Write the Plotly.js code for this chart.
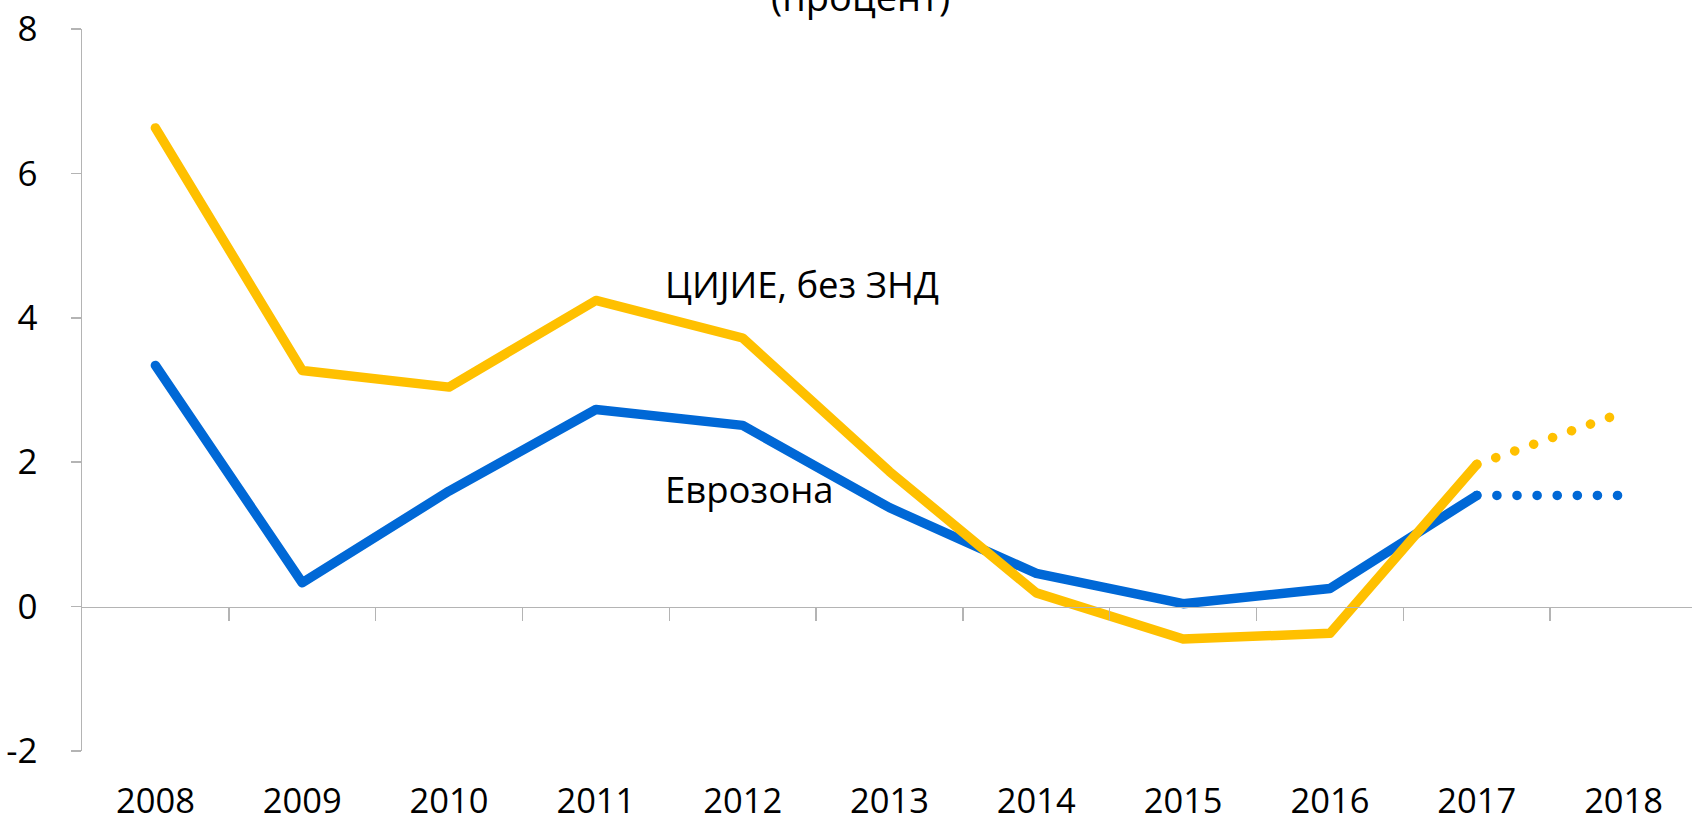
<!DOCTYPE html>
<html>
<head>
<meta charset="utf-8">
<script src="https://cdn.plot.ly/plotly-3.0.1.min.js"></script>
<style>
html,body{margin:0;padding:0;overflow:hidden;background:#fff;}
#chart{width:1697px;height:823px;}
path.js-line{stroke-linecap:round !important;stroke-linejoin:round !important;}
</style>
</head>
<body>
<div id="chart"></div>
<script>
const years = ['2008','2009','2010','2011','2012','2013','2014','2015','2016','2017','2018'];
const euroArea = [3.34, 0.33, 1.60, 2.73, 2.51, 1.37, 0.46, 0.04, 0.25, 1.54, 1.54];
const ceeArea  = [6.63, 3.27, 3.04, 4.24, 3.72, 1.87, 0.19, -0.45, -0.37, 1.97, 2.69];
const lastActual = 9; // 2017; 2018 is a forecast (dotted)
const yTicks = [-2, 0, 2, 4, 6, 8];
const labelCee = 'ЦИЈИЕ, без ЗНД';
const labelEuro = 'Еврозона';
const titleText = '(процент)';

const BLUE = '#0068D6';
const YELLOW = '#FFC000';
const LW = 9.5;
const FONT = 'Open Sans, sans-serif';

function actual(arr){ return arr.slice(0, lastActual + 1); }
function forecast(arr){ return arr.slice(lastActual); }

const traces = [
  {x: actual(years), y: actual(euroArea), mode:'lines', line:{color:BLUE, width:LW}, hoverinfo:'skip'},
  {x: forecast(years), y: forecast(euroArea), mode:'lines', line:{color:BLUE, width:LW, dash:'0.1px,20px'}, hoverinfo:'skip'},
  {x: actual(years), y: actual(ceeArea), mode:'lines', line:{color:YELLOW, width:LW}, hoverinfo:'skip'},
  {x: forecast(years), y: forecast(ceeArea), mode:'lines', line:{color:YELLOW, width:LW, dash:'0.1px,20px'}, hoverinfo:'skip'},
  {x: [], y: [], xaxis:'x2', mode:'lines', hoverinfo:'skip', showlegend:false}
];

const boundaries = years.slice(0, -1).map((_, i) => i + 0.5);

const layout = {
  width: 1697, height: 823,
  margin: {l: 82, r: 0, t: 29, b: 72},
  paper_bgcolor: '#fff', plot_bgcolor: '#fff',
  showlegend: false,
  font: {family: FONT, size: 35, color: '#000'},
  xaxis: {
    type: 'category', range: [-0.5, 10.5], showline: false, showgrid: false, zeroline: false,
    ticks: '', ticklabelstandoff: 26, tickfont: {size: 34.5, family: FONT, color:'#000'}
  },
  xaxis2: {
    overlaying: 'x', anchor: 'free', position: 0.2, type: 'linear', range: [-0.5, 10.5],
    showline: true, linecolor: '#B4B4B4', linewidth: 1.5, showgrid: false, zeroline: false,
    ticks: 'outside', ticklen: 13, tickwidth: 1.5, tickcolor: '#B4B4B4',
    tickmode: 'array', tickvals: boundaries, showticklabels: false
  },
  yaxis: {
    range: [-2, 8], tickmode: 'array', tickvals: yTicks, ticktext: yTicks.map(String),
    showline: true, linecolor: '#B4B4B4', linewidth: 1.5, showgrid: false, zeroline: false,
    ticks: 'outside', ticklen: 10, tickwidth: 1.5, tickcolor: '#B4B4B4',
    ticklabelstandoff: 26, tickfont: {size: 35, family: FONT, color:'#000'}
  },
  annotations: [
    {x: 3.46, y: 4.47, xref:'x', yref:'y', text: labelCee, showarrow:false, xanchor:'left', yanchor:'middle', font:{size:36.5, family:FONT, color:'#000'}},
    {x: 3.46, y: 1.63, xref:'x', yref:'y', text: labelEuro, showarrow:false, xanchor:'left', yanchor:'middle', font:{size:36.5, family:FONT, color:'#000'}},
    {x: (860 - 82) / 1615, y: 1.0, xref:'paper', yref:'paper', text: titleText, showarrow:false, xanchor:'center', yanchor:'middle', yshift: 33, font:{size:38, family:FONT, color:'#000'}}
  ]
};

Plotly.newPlot('chart', traces, layout, {displayModeBar: false, staticPlot: true});
</script>
</body>
</html>
